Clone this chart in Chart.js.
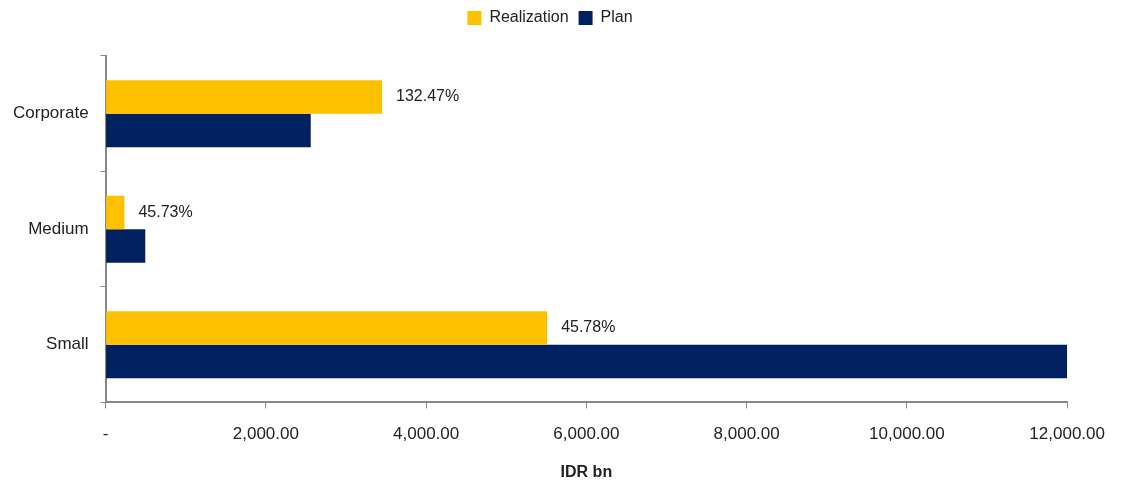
<!DOCTYPE html>
<html>
<head>
<meta charset="utf-8">
<script src="https://cdn.jsdelivr.net/npm/chart.js@4/dist/chart.umd.min.js"></script>
<style>
  html, body { margin: 0; padding: 0; background: #fff; }
  #wrap { width: 1121px; height: 482px; }
</style>
</head>
<body>
<div id="wrap"><canvas id="segChart" width="1121" height="482"></canvas></div>
<script>
const categories = ['Corporate', 'Medium', 'Small'];
const realization = [3450, 235, 5510];
const plan = [2560, 495, 12000];
const pctLabels = ['132.47%', '45.73%', '45.78%'];
const xTicks = [0, 2000, 4000, 6000, 8000, 10000, 12000];

const FONT = '"Liberation Sans Narrow", "Liberation Sans", Arial, sans-serif';

// write the achievement % just right of each realization bar
const pctPlugin = {
    id: 'pctPlugin',
    afterDatasetsDraw(chart) {
        const ctx = chart.ctx;
        const meta = chart.getDatasetMeta(0);
        ctx.save();
        ctx.font = '16px ' + FONT;
        ctx.fillStyle = '#222';
        ctx.textAlign = 'left';
        ctx.textBaseline = 'middle';
        meta.data.forEach((bar, i) => {
            ctx.fillText(pctLabels[i], bar.x + 14, bar.y);
        });
        ctx.restore();
    }
};

// extra room between legend and plot
const legendGap = {
    id: 'legendGap',
    beforeInit(chart) {
        const fit = chart.legend.fit;
        chart.legend.fit = function () {
            fit.bind(chart.legend)();
            this.height += 20;
        };
    }
};

document.addEventListener('DOMContentLoaded', () => {
    const ctx = document.getElementById('segChart').getContext('2d');
    new Chart(ctx, {
        type: 'bar',
        data: {
            labels: categories,
            datasets: [{
                label: 'Realization',
                data: realization,
                backgroundColor: '#FFC000',
                categoryPercentage: 0.58,
                barPercentage: 1.0
            }, {
                label: 'Plan',
                data: plan,
                backgroundColor: '#002060',
                categoryPercentage: 0.58,
                barPercentage: 1.0
            }]
        },
        options: {
            indexAxis: 'y',
            responsive: false,
            animation: false,
            layout: {
                padding: { top: 0, right: 22, left: 1, bottom: 0 }
            },
            plugins: {
                legend: {
                    position: 'top',
                    labels: {
                        boxWidth: 14,
                        boxHeight: 14,
                        padding: 10,
                        color: '#222',
                        font: { family: FONT, size: 16 }
                    }
                },
                tooltip: { enabled: false }
            },
            scales: {
                x: {
                    min: 0,
                    max: 12000,
                    afterBuildTicks(axis) {
                        axis.ticks = xTicks.map(v => ({ value: v }));
                    },
                    border: { color: '#888', width: 2 },
                    grid: {
                        drawOnChartArea: false,
                        color: '#888',
                        tickLength: 6,
                        lineWidth: 1
                    },
                    ticks: {
                        color: '#222',
                        padding: 16,
                        maxRotation: 0,
                        font: { family: FONT, size: 17 },
                        callback: v => v === 0 ? '-' : v.toLocaleString('en-US', { minimumFractionDigits: 2, maximumFractionDigits: 2 })
                    },
                    title: {
                        display: true,
                        text: 'IDR bn',
                        color: '#222',
                        padding: { top: 2, bottom: 0 },
                        font: { family: FONT, size: 16, weight: 'bold' }
                    }
                },
                y: {
                    border: { color: '#888', width: 2 },
                    grid: {
                        drawOnChartArea: false,
                        offset: true,
                        color: '#888',
                        tickLength: 5
                    },
                    ticks: {
                        color: '#222',
                        padding: 12,
                        font: { family: FONT, size: 17 }
                    }
                }
            }
        },
        plugins: [pctPlugin, legendGap]
    });
});
</script>
</body>
</html>
